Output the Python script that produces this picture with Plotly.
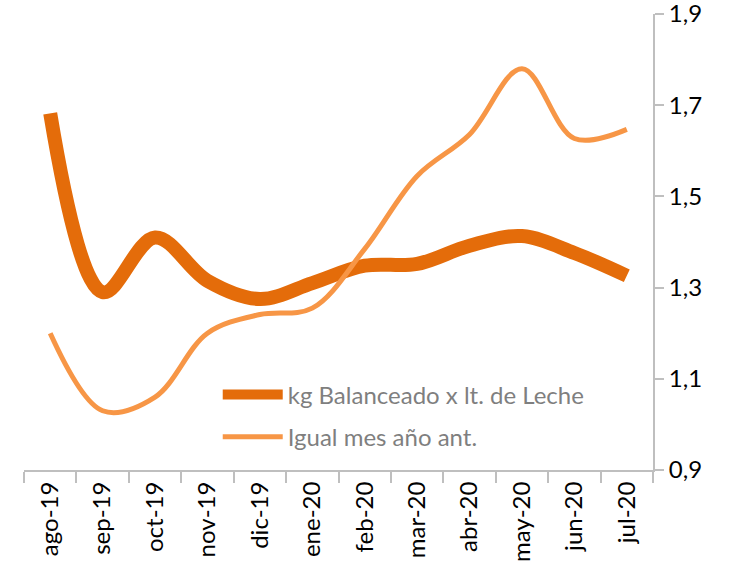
import plotly.graph_objects as go

months = ["ago-19", "sep-19", "oct-19", "nov-19", "dic-19", "ene-20",
          "feb-20", "mar-20", "abr-20", "may-20", "jun-20", "jul-20"]
kg_balanceado = [1.682, 1.29, 1.41, 1.315, 1.275, 1.31, 1.348, 1.352, 1.392, 1.413, 1.376, 1.326]
igual_mes_ant = [1.20, 1.03, 1.06, 1.20, 1.241, 1.255, 1.385, 1.545, 1.636, 1.78, 1.627, 1.647]
y_ticks = [0.9, 1.1, 1.3, 1.5, 1.7, 1.9]

FONT = "Lato"

fig = go.Figure()
fig.add_trace(go.Scatter(
    x=months, y=kg_balanceado, mode="lines", name="kg Balanceado x lt. de Leche",
    legendgroup="a",
    line=dict(color="#E46C0A", width=14, shape="spline", smoothing=1.0),
))
fig.add_trace(go.Scatter(
    x=months, y=igual_mes_ant, mode="lines", name="Igual mes año ant.",
    legendgroup="b",
    line=dict(color="#F79646", width=5, shape="spline", smoothing=1.0),
))

fig.update_layout(
    width=752, height=567,
    margin=dict(l=24, r=99, t=14, b=97),
    paper_bgcolor="white", plot_bgcolor="white",
    separators=",.",
    font=dict(family=FONT, color="black"),
    showlegend=True,
    legend=dict(
        x=0.308, y=0.214, xanchor="left", yanchor="top",
        bgcolor="rgba(0,0,0,0)",
        font=dict(family=FONT, size=24, color="#7F7F7F"),
        tracegroupgap=8, itemwidth=60,
    ),
    xaxis=dict(
        type="category", range=[-0.5, 11.5], automargin=False,
        showline=True, linecolor="#BFBFBF", linewidth=2,
        ticks="outside", tickson="boundaries", ticklen=11, tickcolor="#BFBFBF", tickwidth=2,
        tickangle=-90, showgrid=False, zeroline=False,
        tickfont=dict(family=FONT, size=24, color="black"),
    ),
    yaxis=dict(
        side="right", range=[0.9, 1.9001], tickvals=y_ticks, tickformat=".1f",
        automargin=False, ticklabeloverflow="allow",
        showline=True, linecolor="#BFBFBF", linewidth=2,
        ticks="outside", ticklen=9, tickcolor="#BFBFBF", tickwidth=2,
        showgrid=False, zeroline=False,
        tickfont=dict(family=FONT, size=24, color="black"),
    ),
)

fig.write_html("out.html", config={"displayModeBar": False},
               post_script="document.body.style.margin='0px';")
